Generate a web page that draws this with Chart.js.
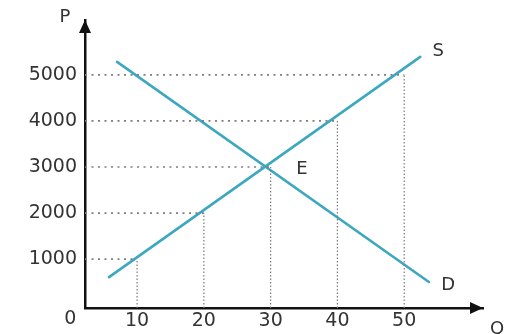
<!DOCTYPE html>
<html><head><meta charset="utf-8">
<script src="https://cdn.jsdelivr.net/npm/chart.js@4"></script>
<style>html,body{margin:0;padding:0;background:#fff}#wrap{width:508px;height:334px;position:relative}</style>
</head><body><div id="wrap"><canvas id="c"></canvas></div>
<script>
// ---- data ----
const qTicks = [10, 20, 30, 40, 50];
const pTicks = [1000, 2000, 3000, 4000, 5000];
const supplyQ = [5.8, 52.4];
const supplyP = [610, 5390];
const demandQ = [7.0, 53.7];
const demandP = [5280, 505];
const guideQ = [10, 20, 30, 40, 50];
const guideP = [1000, 2000, 3000, 4000, 5000];
const qMin = 2.2, qMax = 61.8, pMin = -60, pMax = 6190;
const curveNames = ['S', 'D', 'E'];
const curveNameQ = [55.1, 56.6, 34.7];
const curveNameP = [5500, 440, 2960];

const FONT = '"DejaVu Sans", sans-serif';
const TEAL = '#3ca8c0';
const GUIDE = '#7d7d7d';

const pts = (qs, ps) => qs.map((q, i) => ({x: q, y: ps[i]}));
const datasets = [];
guideQ.forEach((q, i) => {
  datasets.push({data: [{x: qMin, y: guideP[i]}, {x: q, y: guideP[i]}], borderColor: GUIDE, borderWidth: 1.6, borderDash: [2, 4.5], pointRadius: 0, clip: false});
  datasets.push({data: [{x: q, y: pMin}, {x: q, y: guideP[i]}], borderColor: GUIDE, borderWidth: 1.2, borderDash: [1.5, 2], pointRadius: 0, clip: false});
});
datasets.push({data: pts(supplyQ, supplyP), borderColor: TEAL, borderWidth: 2.6, pointRadius: 0, clip: false, borderCapStyle: 'round'});
datasets.push({data: pts(demandQ, demandP), borderColor: TEAL, borderWidth: 2.6, pointRadius: 0, clip: false, borderCapStyle: 'round'});

const decor = {
  id: 'decor',
  afterDatasetsDraw(chart) {
    const {ctx, chartArea: a, scales: {x, y}} = chart;
    ctx.save();
    ctx.fillStyle = '#111';
    ctx.beginPath();
    ctx.moveTo(a.left, a.top); ctx.lineTo(a.left - 6, a.top + 13); ctx.lineTo(a.left + 6, a.top + 13);
    ctx.closePath(); ctx.fill();
    ctx.beginPath();
    ctx.moveTo(a.right, a.bottom); ctx.lineTo(a.right - 13, a.bottom - 6); ctx.lineTo(a.right - 13, a.bottom + 6);
    ctx.closePath(); ctx.fill();
    ctx.textAlign = 'center'; ctx.textBaseline = 'middle';
    ctx.fillStyle = '#333';
    ctx.font = '18px ' + FONT;
    ctx.fillText('P', a.left - 20, a.top - 3);
    ctx.fillText('Q', a.right + 14, a.bottom + 21);
    ctx.font = '19px ' + FONT;
    ctx.fillText('0', x.getPixelForValue(0), a.bottom + 11);
    ctx.font = '18px ' + FONT;
    curveNames.forEach((t, i) => ctx.fillText(t, x.getPixelForValue(curveNameQ[i]), y.getPixelForValue(curveNameP[i])));
    ctx.restore();
  }
};

new Chart(document.getElementById('c'), {
  type: 'line',
  data: {datasets},
  options: {
    responsive: true, maintainAspectRatio: false, animation: false,
    layout: {padding: {top: 20, right: 25, left: 0, bottom: 0}},
    plugins: {legend: {display: false}, tooltip: {enabled: false}},
    elements: {line: {tension: 0}},
    scales: {
      x: {
        type: 'linear', min: qMin, max: qMax,
        grid: {display: false, drawTicks: false},
        border: {display: true, color: '#111', width: 2.5},
        afterBuildTicks: s => { s.ticks = qTicks.map(v => ({value: v})); },
        afterFit: s => { s.height = 26; },
        ticks: {font: {family: FONT, size: 19}, color: '#333', padding: 2, maxRotation: 0, autoSkip: false, callback: v => String(v)}
      },
      y: {
        type: 'linear', min: pMin, max: pMax,
        grid: {display: false, drawTicks: false},
        border: {display: true, color: '#111', width: 2.5},
        afterBuildTicks: s => { s.ticks = pTicks.map(v => ({value: v})); },
        afterFit: s => { s.width = 85; },
        ticks: {font: {family: FONT, size: 19}, color: '#333', padding: 8, autoSkip: false, callback: v => String(v)}
      }
    }
  },
  plugins: [decor]
});
</script>
</body></html>
